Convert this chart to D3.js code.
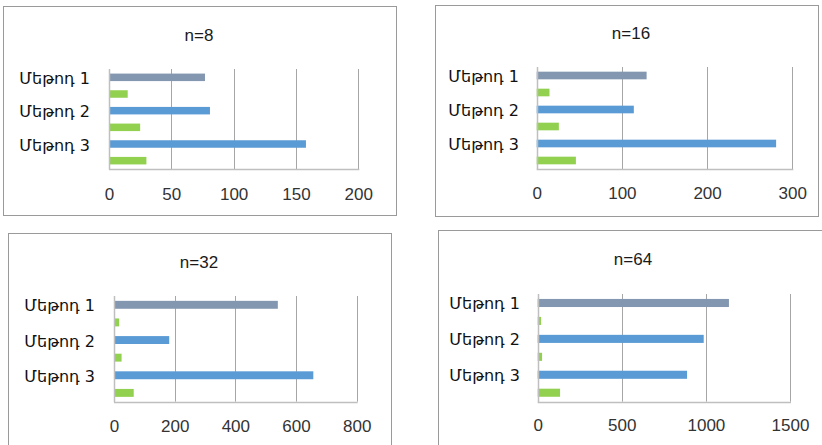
<!DOCTYPE html>
<html>
<head>
<meta charset="utf-8">
<script src="https://cdn.jsdelivr.net/npm/d3@7"></script>
<style>
html,body{margin:0;padding:0;background:#fff;}
svg{display:block;}
</style>
</head>
<body>
<svg id="chart" width="822" height="445"></svg>
<script>
// ---- data ----
const categories = ["Մեթոդ 1", "Մեթոդ 2", "Մեթոդ 3"];
const titles = ["n=8", "n=16", "n=32", "n=64"];
const mainValues_n8  = [77, 81, 158];
const greenValues_n8 = [15, 25, 30];
const mainValues_n16  = [129, 114, 281];
const greenValues_n16 = [15, 26, 46];
const mainValues_n32  = [540, 182, 657];
const greenValues_n32 = [17, 25, 65];
const mainValues_n64  = [1137, 987, 888];
const greenValues_n64 = [20, 26, 133];
const ticks_n8  = [0, 50, 100, 150, 200];
const ticks_n16 = [0, 100, 200, 300];
const ticks_n32 = [0, 200, 400, 600, 800];
const ticks_n64 = [0, 500, 1000, 1500];

const mainSeries = [mainValues_n8, mainValues_n16, mainValues_n32, mainValues_n64];
const greenSeries = [greenValues_n8, greenValues_n16, greenValues_n32, greenValues_n64];
const tickSets = [ticks_n8, ticks_n16, ticks_n32, ticks_n64];

// ---- layout (positions only) ----
const layouts = [
  {frame:[3,6,393,209],   x0:109,   x1:358.3, top:69,  bottom:169,   tx:199, ty:35,  labelRight:90,  tickY:194},
  {frame:[435,5,383,211], x0:536.7, x1:792.3, top:67,  bottom:169,   tx:631, ty:33,  labelRight:519, tickY:193},
  {frame:[8,233,383,230], x0:114,   x1:356.7, top:296, bottom:401.7, tx:199, ty:262, labelRight:95,  tickY:426},
  {frame:[438,230,400,230],x0:537.7,x1:790,   top:294, bottom:401.7, tx:633, ty:259, labelRight:520, tickY:425}
];

const colorTop = "#8497B0", colorBlue = "#5B9BD5", colorGreen = "#92D050";
const svg = d3.select("#chart");

layouts.forEach((L, i) => {
  const g = svg.append("g");
  g.append("rect")
    .attr("x", L.frame[0] + 0.5).attr("y", L.frame[1] + 0.5)
    .attr("width", L.frame[2]).attr("height", L.frame[3])
    .attr("fill", "#fff").attr("stroke", "#9a9a9a").attr("stroke-width", 1);

  g.append("text")
    .attr("x", L.tx).attr("y", L.ty)
    .attr("text-anchor", "middle").attr("dominant-baseline", "central")
    .attr("font-family", "Liberation Sans, Arial, sans-serif")
    .attr("font-size", 17).attr("fill", "#1a1a1a")
    .text(titles[i]);

  const ticks = tickSets[i];
  const x = d3.scaleLinear().domain([ticks[0], ticks[ticks.length - 1]]).range([L.x0, L.x1]);

  // rows: category main bar then green bar
  const rows = [];
  categories.forEach((c, k) => {
    rows.push({id: "m" + k, label: c, value: mainSeries[i][k], color: k === 0 ? colorTop : colorBlue});
    rows.push({id: "g" + k, label: "", value: greenSeries[i][k], color: colorGreen});
  });
  const y = d3.scaleBand().domain(rows.map(r => r.id)).range([L.top, L.bottom]).paddingInner(0.55).paddingOuter(0.275);

  // gridlines
  g.selectAll(".grid").data(ticks.slice(1)).join("line")
    .attr("x1", d => Math.round(x(d)) + 0.5).attr("x2", d => Math.round(x(d)) + 0.5)
    .attr("y1", L.top).attr("y2", L.bottom)
    .attr("stroke", "#a6a6a6").attr("stroke-width", 1);

  // bars
  g.selectAll(".bar").data(rows).join("rect")
    .attr("x", x(0)).attr("y", d => y(d.id))
    .attr("width", d => x(d.value) - x(0)).attr("height", y.bandwidth())
    .attr("fill", d => d.color);

  // axes lines
  g.append("line").attr("x1", Math.round(L.x0) + 0.5).attr("x2", Math.round(L.x0) + 0.5)
    .attr("y1", L.top).attr("y2", L.bottom + 0.5).attr("stroke", "#bfbfbf").attr("stroke-width", 1.5);
  g.append("line").attr("x1", L.x0).attr("x2", L.x1 + 1)
    .attr("y1", Math.round(L.bottom) + 0.5).attr("y2", Math.round(L.bottom) + 0.5)
    .attr("stroke", "#bfbfbf").attr("stroke-width", 1.5);

  // x tick labels
  const xAxis = d3.axisBottom(x).tickValues(ticks).tickFormat(d3.format("d")).tickSize(0).tickPadding(0);
  const ax = g.append("g").attr("transform", `translate(0,${L.tickY})`).call(xAxis);
  ax.select(".domain").remove();
  ax.selectAll("text")
    .attr("dy", null).attr("y", 0)
    .attr("dominant-baseline", "central")
    .attr("font-family", "Liberation Sans, Arial, sans-serif")
    .attr("font-size", 17).attr("fill", "#333");

  // category labels
  g.selectAll(".cat").data(rows.filter(r => r.label)).join("text")
    .attr("x", L.labelRight).attr("y", d => y(d.id) + y.bandwidth() / 2 + 1)
    .attr("text-anchor", "end").attr("dominant-baseline", "central")
    .attr("font-family", "DejaVu Sans, sans-serif")
    .attr("font-size", 16).attr("fill", "#111")
    .text(d => d.label);
});
</script>
</body>
</html>
